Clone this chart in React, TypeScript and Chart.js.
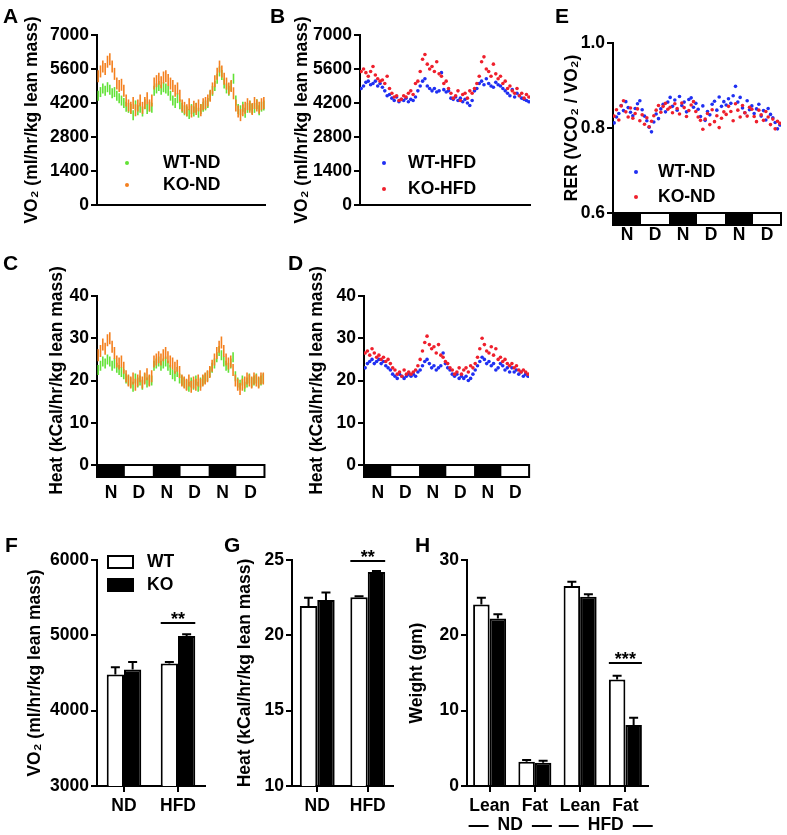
import React, { useEffect, useRef } from "react";
import { Chart, registerables } from "chart.js";
Chart.register(...registerables);

const FONT = '"Liberation Sans", Arial, Helvetica, sans-serif';
const FS = 17.5;
const fnt = (size: number = FS) => ({ family: FONT, size, weight: "bold" as const });

// ---------------- data ----------------
const PHASES = ["N", "D", "N", "D", "N", "D"];
const PHASE_START_HOURS = [0, 12, 24, 36, 48, 60];
const PHASE_CENTER_HOURS = [6, 18, 30, 42, 54, 66];
const PHASE_LENGTH = 12;
const TOTAL_HOURS = 72;

const SERIES_ND = ["WT-ND", "KO-ND"];
const SERIES_HFD = ["WT-HFD", "KO-HFD"];

// A: VO2, normal diet (hourly, 72 h)
const vo2WtND = [
  4500, 4650, 4800, 4700, 4850, 4750, 4600, 4650, 4500, 4400, 4300, 4200,
  4050, 4000, 3950, 3700, 4100, 3900, 4000, 3850, 4150, 3950, 4050, 4000,
  4700, 4800, 4900, 4750, 4850, 4800, 4700, 4500, 4300, 4200, 4400, 4150,
  4000, 3900, 3850, 3750, 3950, 3850, 4000, 3800, 3950, 4050, 4100, 4200,
  4500, 4700, 4900, 5200, 5500, 5350, 5000, 4800, 4700, 4900, 5200, 4300,
  3950, 3900, 4050, 3800, 4000, 4100, 3950, 4000, 4150, 3900, 4050, 4100,
];
const vo2KoND = [
  5300, 5500, 5700, 5600, 5900, 6000, 5700, 5400, 5000, 4900, 4950, 4700,
  4300, 4100, 4000, 4200, 3900, 4100, 4300, 4000, 4200, 4400, 4100, 4300,
  5000, 5100, 5200, 5050, 5250, 5300, 5150, 5000, 4900, 4700, 4800, 4500,
  4100, 4000, 3900, 4150, 3850, 4050, 3950, 4100, 3900, 4150, 4200, 4300,
  4500, 4800, 5100, 5400, 5700, 5500, 5200, 5000, 4800, 4900, 4600, 4100,
  3850, 3700, 3900, 4000, 4150, 4050, 3950, 4200, 4100, 4000, 4150, 4200,
];
// B: VO2, high-fat diet
const vo2WtHFD = [
  4800, 4900, 5050, 5100, 4950, 5000, 5100, 4900, 5000, 4850, 4700, 4500,
  4550, 4400, 4300, 4450, 4250, 4350, 4300, 4400, 4250, 4350, 4300, 4450,
  4700, 4900, 5100, 5200, 4900, 4800, 4700, 4800, 4650, 4700, 5450, 4750,
  4650, 4700, 4400, 4350, 4450, 4300, 4400, 4250, 4350, 4200, 4100, 4300,
  4700, 4800, 5000, 5100, 4950, 5200, 5000, 4900, 4850, 5050, 4950, 4900,
  4800, 4700, 4600, 4500, 4750, 4450, 4600, 4500, 4400, 4350, 4300, 4250,
];
const vo2KoHFD = [
  5500, 5600, 5450, 5300, 5500, 5700, 5350, 5200, 5100, 5150, 5000, 5300,
  4800, 4600, 4450, 4500, 4300, 4350, 4500, 4450, 4600, 4700, 4550, 5000,
  5100, 5500, 6000, 6200, 5800, 5600, 5700, 5500, 5900, 5400, 5300, 5000,
  5100, 4800, 4600, 4400, 4500, 4700, 4300, 4550, 4600, 4400, 4700, 4600,
  4800, 5000, 5300, 5900, 6100, 5600, 5500, 5300, 5800, 5400, 5200, 5300,
  5000, 5100, 4800, 4900, 4700, 4600, 4800, 4500, 4600, 4400, 4550, 4450,
];
// C: heat, normal diet
const heatWtND = [
  22.5, 23.5, 24.5, 24, 25, 24.5, 23.5, 24, 23, 22.5, 22, 21.5,
  20.5, 20, 19.5, 18.5, 20.5, 19.5, 20, 19, 20.5, 19.5, 20, 20,
  23.5, 24, 24.5, 23.5, 24, 24.5, 23.5, 22.5, 21.5, 21, 22, 20.5,
  20, 19.5, 19, 18.5, 19.5, 19, 20, 18.5, 19.5, 20, 20.5, 21,
  22, 23, 24, 25.5, 27, 26, 24.5, 23.5, 23, 24, 25.5, 21,
  19.5, 19, 20, 18.5, 19.5, 20.5, 19.5, 20, 20.5, 19.5, 20, 20.5,
];
const heatKoND = [
  26, 27, 28.5, 27.5, 29.5, 30, 28, 26.5, 24.5, 24, 24.5, 23,
  21, 20, 19.5, 20.5, 19, 20, 21, 19.5, 20.5, 21.5, 20, 21,
  24.5, 25, 25.5, 25, 26, 26.5, 25.5, 24.5, 24, 23, 23.5, 22,
  20, 19.5, 19, 20, 18.5, 19.5, 19, 20, 19, 20, 20.5, 21,
  22, 23.5, 25, 26.5, 28, 29, 27, 25, 24, 24.5, 22.5, 20,
  19, 18, 19, 19.5, 20.5, 20, 19.5, 20.5, 20, 19.5, 20.5, 20.5,
];
// D: heat, high-fat diet
const heatWtHFD = [
  23, 24, 24.5, 25, 24, 24.5, 25, 24, 24.5, 23.5, 23, 22.5,
  21.5, 21, 20.5, 21.5, 21, 20.5, 21, 21.5, 21, 21.5, 21, 22,
  22.5, 23.5, 24.5, 25, 24, 23, 23.5, 22.5, 23, 23.5, 26.5, 24,
  23, 22.5, 21.5, 21, 21.5, 20.5, 21, 20.5, 21, 20, 20.5, 21.5,
  22.5, 23.5, 24.5, 25.5, 25, 24, 24.5, 23.5, 24, 22.5, 23, 24,
  23.5, 22.5, 23, 22, 23, 22, 22.5, 21.5, 22, 21, 21.5, 21,
];
const heatKoHFD = [
  26.5, 27, 26, 27.5, 26.5, 25.5, 26, 25, 25.5, 24.5, 25, 24,
  23, 22.5, 21.5, 22, 21, 22.5, 21.5, 22, 21.5, 22, 22.5, 23.5,
  25, 27, 29, 30.5, 28.5, 27.5, 28, 26.5, 28.5, 26, 25.5, 24.5,
  24, 23, 22.5, 21.5, 22, 23, 21.5, 22.5, 23, 22, 23.5, 23,
  24, 25.5, 27.5, 30, 28.5, 27, 26.5, 28, 26, 27.5, 25, 25.5,
  24.5, 25, 24, 23.5, 24, 23, 23.5, 22.5, 22, 22.5, 22, 21.5,
];
// E: RER, normal diet
const rerWtND = [
  0.812, 0.826, 0.834, 0.853, 0.841, 0.862, 0.848, 0.837, 0.829, 0.846, 0.857, 0.864,
  0.843, 0.828, 0.817, 0.802, 0.791, 0.814, 0.833, 0.822, 0.845, 0.856, 0.838, 0.861,
  0.872, 0.851, 0.866, 0.842, 0.874, 0.853, 0.861, 0.838, 0.867, 0.871, 0.849, 0.858,
  0.844, 0.827, 0.852, 0.818, 0.839, 0.831, 0.856, 0.863, 0.842, 0.873, 0.851, 0.862,
  0.854, 0.869, 0.858, 0.876, 0.898, 0.861, 0.872, 0.847, 0.836, 0.864, 0.843, 0.852,
  0.834, 0.845, 0.856, 0.828, 0.841, 0.819, 0.846, 0.832, 0.824, 0.813, 0.798, 0.807,
];
const rerKoND = [
  0.828, 0.843, 0.819, 0.852, 0.864, 0.838, 0.826, 0.847, 0.823, 0.834, 0.845, 0.817,
  0.831, 0.809, 0.824, 0.803, 0.816, 0.829, 0.842, 0.853, 0.837, 0.851, 0.858, 0.844,
  0.849, 0.836, 0.857, 0.846, 0.833, 0.859, 0.848, 0.827, 0.841, 0.854, 0.862, 0.839,
  0.826, 0.818, 0.797, 0.821, 0.834, 0.808, 0.843, 0.815, 0.829, 0.801, 0.823, 0.838,
  0.832, 0.851, 0.839, 0.817, 0.857, 0.842, 0.826, 0.853, 0.836, 0.828, 0.849, 0.844,
  0.827, 0.815, 0.842, 0.831, 0.818, 0.839, 0.826, 0.808, 0.821, 0.798, 0.816, 0.811,
];

// F, G: bar groups
const DIETS = ["ND", "HFD"];
const GENOTYPES = ["WT", "KO"];
const vo2BarWT = [4480, 4625];
const vo2BarWTErr = [95, 20];
const vo2BarKO = [4545, 4990];
const vo2BarKOErr = [100, 25];
const heatBarWT = [21.95, 22.52];
const heatBarWTErr = [0.55, 0.07];
const heatBarKO = [22.35, 24.2];
const heatBarKOErr = [0.5, 0.07];
// H: body composition
const COMPOSITION = ["Lean", "Fat", "Lean", "Fat"];
const COMPOSITION_GROUPS = ["ND", "HFD"];
const weightWT = [24.1, 3.22, 26.55, 14.15];
const weightWTErr = [0.9, 0.22, 0.55, 0.5];
const weightKO = [22.25, 3.1, 25.13, 8.1];
const weightKOErr = [0.55, 0.25, 0.32, 0.95];

const C_GREEN = "#62e236";
const C_ORANGE = "#f4801f";
const C_BLUE = "#1f2ff2";
const C_RED = "#ef1f2c";

// ---------------- helpers ----------------
type Box = { x: number; y: number; w: number; h: number };
type Area = { l: number; t: number; r: number; b: number };

function frame(box: Box, area: Area) {
  return {
    padTop: area.t - box.y,
    padRight: box.x + box.w - area.r,
    yW: area.l - box.x,
    xH: box.y + box.h - area.b,
  };
}

function yAxis(o: any) {
  const fr = frame(o.box, o.area);
  return {
    type: "linear",
    position: "left",
    min: o.min,
    max: o.max,
    ticks: {
      stepSize: o.step,
      color: "#000",
      font: fnt(),
      padding: 2,
      callback: o.fmt || ((v: any) => String(v)),
    },
    grid: {
      display: true,
      drawOnChartArea: false,
      drawTicks: true,
      tickLength: 6,
      color: "#000",
      lineWidth: 2,
    },
    border: { display: true, color: "#000", width: 2 },
    title: {
      display: true,
      text: o.title,
      color: "#000",
      font: fnt(),
      padding: { top: o.titleX - o.box.x - FS * 0.6, bottom: 0 },
    },
    afterFit: (s: any) => {
      s.width = fr.yW;
    },
  };
}

function ChartCanvas({ box, make }: { box: Box; make: () => any }) {
  const ref = useRef<HTMLCanvasElement>(null);
  useEffect(() => {
    const c = new Chart(ref.current as HTMLCanvasElement, make());
    return () => c.destroy();
  }, []);
  return (
    <canvas
      ref={ref}
      width={box.w}
      height={box.h}
      style={{ position: "absolute", left: box.x, top: box.y, width: box.w, height: box.h }}
    />
  );
}

function baseOptions(fr: any) {
  return {
    animation: false,
    responsive: false,
    maintainAspectRatio: false,
    events: [],
    layout: { padding: { top: fr.padTop, right: fr.padRight, left: 0, bottom: 0 } },
    plugins: { legend: { display: false }, tooltip: { enabled: false } },
  };
}

// ---------------- time-series panels ----------------
function timeConfig(p: any) {
  const fr = frame(p.box, p.area);
  const datasets = p.series.map((s: any) => ({
    label: s.label,
    data: s.values.map((v: number, i: number) => ({ x: i + 0.5, y: v })),
    order: s.order,
    showLine: false,
    pointStyle: p.dash ? "line" : "circle",
    pointRotation: p.dash ? 90 : 0,
    pointRadius: p.dash ? s.dashR : 1.8,
    pointBorderWidth: p.dash ? 1.6 : 0,
    pointBorderColor: s.color,
    pointBackgroundColor: s.color,
  }));

  const plugins: any[] = [];
  if (p.legend && p.legend.length) {
    plugins.push({
      id: "tsLegend",
      afterDraw(chart: any) {
        const ctx = chart.ctx;
        ctx.save();
        ctx.font = `bold ${FS}px ${FONT}`;
        ctx.textBaseline = "middle";
        ctx.textAlign = "left";
        p.series.forEach((s: any, k: number) => {
          const lg = p.legend[k];
          if (!lg) return;
          ctx.fillStyle = s.color;
          ctx.beginPath();
          ctx.arc(lg.dotX - p.box.x, lg.y - p.box.y, 2, 0, Math.PI * 2);
          ctx.fill();
          ctx.fillStyle = "#000";
          ctx.fillText(s.label, lg.textX - p.box.x, lg.y - p.box.y);
        });
        ctx.restore();
      },
    });
  }
  if (p.dayNight) {
    plugins.push({
      id: "dayNight",
      afterDraw(chart: any) {
        const ctx = chart.ctx;
        const xs = chart.scales.x;
        const top = chart.chartArea.bottom;
        const h = 12;
        ctx.save();
        PHASE_START_HOURS.forEach((s, i) => {
          const x0 = xs.getPixelForValue(s);
          const x1 = xs.getPixelForValue(s + PHASE_LENGTH);
          ctx.fillStyle = PHASES[i] === "N" ? "#000" : "#fff";
          ctx.fillRect(x0, top, x1 - x0, h);
        });
        ctx.strokeStyle = "#000";
        ctx.lineWidth = 2;
        const a = xs.getPixelForValue(0);
        const b = xs.getPixelForValue(TOTAL_HOURS);
        ctx.strokeRect(a, top, b - a, h);
        ctx.restore();
      },
    });
  }

  const opts: any = baseOptions(fr);
  opts.scales = {
    x: {
      type: "linear",
      min: 0,
      max: TOTAL_HOURS,
      afterBuildTicks: (s: any) => {
        s.ticks = PHASE_CENTER_HOURS.map((v) => ({ value: v }));
      },
      ticks: {
        display: !!p.dayNight,
        autoSkip: false,
        maxRotation: 0,
        color: "#000",
        font: fnt(),
        padding: p.labelPad || 0,
        callback: (_v: any, i: number) => PHASES[i],
      },
      grid: { display: false, drawTicks: false },
      border: { display: true, color: "#000", width: 2 },
      afterFit: (s: any) => {
        s.height = fr.xH;
      },
    },
    y: yAxis({
      box: p.box,
      area: p.area,
      min: p.yMin,
      max: p.yMax,
      step: p.yStep,
      title: p.title,
      titleX: p.titleX,
      fmt: p.fmt,
    }),
  };
  return { type: "scatter", data: { datasets }, options: opts, plugins };
}

// ---------------- bar panels ----------------
function barConfig(p: any) {
  const fr = frame(p.box, p.area);
  const datasets = [
    {
      label: GENOTYPES[0],
      data: p.wt,
      backgroundColor: "#fff",
      borderColor: "#000",
      borderWidth: 2,
      categoryPercentage: p.pct,
      barPercentage: 1,
    },
    {
      label: GENOTYPES[1],
      data: p.ko,
      backgroundColor: "#000",
      borderColor: "#000",
      borderWidth: 2,
      categoryPercentage: p.pct,
      barPercentage: 1,
    },
  ];
  const plugins: any[] = [
    {
      id: "errBars",
      afterDatasetsDraw(chart: any) {
        const ctx = chart.ctx;
        const ys = chart.scales.y;
        [p.wtErr, p.koErr].forEach((errs: number[], d: number) => {
          const vals = d === 0 ? p.wt : p.ko;
          const meta = chart.getDatasetMeta(d);
          meta.data.forEach((el: any, i: number) => {
            const top = ys.getPixelForValue(vals[i] + errs[i]);
            ctx.save();
            ctx.strokeStyle = "#000";
            ctx.lineWidth = 2;
            ctx.beginPath();
            ctx.moveTo(el.x, el.y);
            ctx.lineTo(el.x, top);
            ctx.moveTo(el.x - 4.5, top);
            ctx.lineTo(el.x + 4.5, top);
            ctx.stroke();
            ctx.restore();
          });
        });
      },
    },
    {
      id: "sig",
      afterDraw(chart: any) {
        const ctx = chart.ctx;
        const ys = chart.scales.y;
        const w = chart.getDatasetMeta(0).data[p.sig.cat];
        const k = chart.getDatasetMeta(1).data[p.sig.cat];
        if (!w || !k) return;
        const x0 = w.x - w.width / 2;
        const x1 = k.x + k.width / 2;
        const y = Math.round(ys.getPixelForValue(p.sig.value));
        ctx.save();
        ctx.strokeStyle = "#000";
        ctx.lineWidth = 2;
        ctx.beginPath();
        ctx.moveTo(x0, y);
        ctx.lineTo(x1, y);
        ctx.stroke();
        ctx.fillStyle = "#000";
        ctx.font = `bold 18px ${FONT}`;
        ctx.textAlign = "center";
        ctx.textBaseline = "alphabetic";
        ctx.fillText(p.sig.text, (x0 + x1) / 2, y + 2);
        ctx.restore();
      },
    },
  ];
  if (p.boxLegend) {
    plugins.push({
      id: "boxLegend",
      afterDraw(chart: any) {
        const ctx = chart.ctx;
        ctx.save();
        ctx.font = `bold ${FS}px ${FONT}`;
        ctx.textBaseline = "middle";
        ctx.textAlign = "left";
        p.boxLegend.forEach((lg: any, k: number) => {
          const bx = lg.x - p.box.x;
          const by = lg.y - p.box.y;
          ctx.fillStyle = k === 0 ? "#fff" : "#000";
          ctx.fillRect(bx, by, 25, 12);
          ctx.strokeStyle = "#000";
          ctx.lineWidth = 2;
          ctx.strokeRect(bx, by, 25, 12);
          ctx.fillStyle = "#000";
          ctx.fillText(GENOTYPES[k], lg.textX - p.box.x, by + 6.5);
        });
        ctx.restore();
      },
    });
  }
  if (p.groups) {
    plugins.push({
      id: "groups",
      afterDraw(chart: any) {
        const ctx = chart.ctx;
        const xs = chart.scales.x;
        ctx.save();
        ctx.font = `bold ${FS}px ${FONT}`;
        ctx.textBaseline = "middle";
        ctx.textAlign = "center";
        ctx.fillStyle = "#000";
        ctx.strokeStyle = "#000";
        ctx.lineWidth = 2;
        p.groups.forEach((g: string, gi: number) => {
          const cx = (xs.getPixelForValue(gi * 2) + xs.getPixelForValue(gi * 2 + 1)) / 2 + p.groupShift[gi];
          const y = p.groupY - p.box.y;
          const tw = ctx.measureText(g).width;
          ctx.fillText(g, cx, y);
          ctx.beginPath();
          ctx.moveTo(cx - tw / 2 - 9, y + 1);
          ctx.lineTo(cx - tw / 2 - 29, y + 1);
          ctx.moveTo(cx + tw / 2 + 9, y + 1);
          ctx.lineTo(cx + tw / 2 + 29, y + 1);
          ctx.stroke();
        });
        ctx.restore();
      },
    });
  }
  const opts: any = baseOptions(fr);
  opts.scales = {
    x: {
      type: "category",
      offset: true,
      ticks: { color: "#000", font: fnt(), padding: p.labelPad, autoSkip: false, maxRotation: 0 },
      grid: {
        display: true,
        drawOnChartArea: false,
        drawTicks: true,
        tickLength: 6,
        color: "#000",
        lineWidth: 2,
        offset: false,
      },
      border: { display: true, color: "#000", width: 2 },
      afterFit: (s: any) => {
        s.height = fr.xH;
      },
    },
    y: yAxis({
      box: p.box,
      area: p.area,
      min: p.yMin,
      max: p.yMax,
      step: p.yStep,
      title: p.title,
      titleX: p.titleX,
    }),
  };
  return { type: "bar", data: { labels: p.labels, datasets }, options: opts, plugins };
}

// ---------------- layout ----------------
const boxA = { x: 0, y: 0, w: 275, h: 245 };
const boxB = { x: 270, y: 0, w: 270, h: 245 };
const boxE = { x: 545, y: 0, w: 242, h: 252 };
const boxC = { x: 0, y: 250, w: 275, h: 268 };
const boxD = { x: 270, y: 250, w: 270, h: 268 };
const boxF = { x: 0, y: 520, w: 215, h: 315 };
const boxG = { x: 215, y: 520, w: 190, h: 315 };
const boxH = { x: 405, y: 520, w: 260, h: 315 };

const VO2_TITLE = "VO\u2082 (ml/hr/kg lean mass)";
const HEAT_TITLE = "Heat (kCal/hr/kg lean mass)";

const makeA = () =>
  timeConfig({
    box: boxA,
    area: { l: 97, t: 35, r: 265, b: 205 },
    yMin: 0, yMax: 7000, yStep: 1400,
    title: VO2_TITLE, titleX: 32,
    dash: true,
    series: [
      { label: SERIES_ND[0], values: vo2WtND, color: C_GREEN, order: 1, dashR: 5 },
      { label: SERIES_ND[1], values: vo2KoND, color: C_ORANGE, order: 0, dashR: 6 },
    ],
    legend: [
      { dotX: 127, textX: 163, y: 163 },
      { dotX: 127, textX: 163, y: 185 },
    ],
  });
const makeB = () =>
  timeConfig({
    box: boxB,
    area: { l: 360, t: 35, r: 530, b: 205 },
    yMin: 0, yMax: 7000, yStep: 1400,
    title: VO2_TITLE, titleX: 302,
    dash: false,
    series: [
      { label: SERIES_HFD[0], values: vo2WtHFD, color: C_BLUE, order: 1 },
      { label: SERIES_HFD[1], values: vo2KoHFD, color: C_RED, order: 0 },
    ],
    legend: [
      { dotX: 384, textX: 408, y: 163 },
      { dotX: 384, textX: 408, y: 189 },
    ],
  });
const makeE = () =>
  timeConfig({
    box: boxE,
    area: { l: 613, t: 43, r: 781, b: 213 },
    yMin: 0.6, yMax: 1.0, yStep: 0.2,
    fmt: (v: any) => Number(v).toFixed(1),
    title: "RER (VCO\u2082 / VO\u2082)", titleX: 572,
    dash: false,
    dayNight: true, labelPad: 12,
    series: [
      { label: SERIES_ND[0], values: rerWtND, color: C_BLUE, order: 1 },
      { label: SERIES_ND[1], values: rerKoND, color: C_RED, order: 0 },
    ],
    legend: [
      { dotX: 636, textX: 658, y: 172 },
      { dotX: 636, textX: 658, y: 197 },
    ],
  });
const makeC = () =>
  timeConfig({
    box: boxC,
    area: { l: 97, t: 296, r: 267, b: 465 },
    yMin: 0, yMax: 40, yStep: 10,
    title: HEAT_TITLE, titleX: 57,
    dash: true,
    dayNight: true, labelPad: 17.5,
    series: [
      { label: SERIES_ND[0], values: heatWtND, color: C_GREEN, order: 1, dashR: 5 },
      { label: SERIES_ND[1], values: heatKoND, color: C_ORANGE, order: 0, dashR: 6 },
    ],
    legend: [],
  });
const makeD = () =>
  timeConfig({
    box: boxD,
    area: { l: 364, t: 296, r: 530, b: 465 },
    yMin: 0, yMax: 40, yStep: 10,
    title: HEAT_TITLE, titleX: 317,
    dash: false,
    dayNight: true, labelPad: 17.5,
    series: [
      { label: SERIES_HFD[0], values: heatWtHFD, color: C_BLUE, order: 1 },
      { label: SERIES_HFD[1], values: heatKoHFD, color: C_RED, order: 0 },
    ],
    legend: [],
  });
const makeF = () =>
  barConfig({
    box: boxF,
    area: { l: 97, t: 560, r: 205, b: 786 },
    labels: DIETS,
    wt: vo2BarWT, wtErr: vo2BarWTErr, ko: vo2BarKO, koErr: vo2BarKOErr,
    yMin: 3000, yMax: 6000, yStep: 1000,
    title: VO2_TITLE, titleX: 35,
    pct: 0.64, labelPad: 3.5,
    sig: { cat: 1, value: 5165, text: "**" },
    boxLegend: [
      { x: 108, y: 556, textX: 147 },
      { x: 108, y: 579, textX: 147 },
    ],
  });
const makeG = () =>
  barConfig({
    box: boxG,
    area: { l: 292, t: 560, r: 393, b: 786 },
    labels: DIETS,
    wt: heatBarWT, wtErr: heatBarWTErr, ko: heatBarKO, koErr: heatBarKOErr,
    yMin: 10, yMax: 25, yStep: 5,
    title: HEAT_TITLE, titleX: 245,
    pct: 0.69, labelPad: 3.5,
    sig: { cat: 1, value: 24.95, text: "**" },
  });
const makeH = () =>
  barConfig({
    box: boxH,
    area: { l: 467, t: 560, r: 648, b: 786 },
    labels: COMPOSITION,
    wt: weightWT, wtErr: weightWTErr, ko: weightKO, koErr: weightKOErr,
    yMin: 0, yMax: 30, yStep: 10,
    title: "Weight (gm)", titleX: 417,
    pct: 0.73, labelPad: 3.5,
    sig: { cat: 3, value: 16.3, text: "***" },
    groups: COMPOSITION_GROUPS,
    groupShift: [-2, 3],
    groupY: 825,
  });

const LETTERS = [
  { t: "A", x: 3, y: 5 },
  { t: "B", x: 270, y: 5 },
  { t: "E", x: 555, y: 5 },
  { t: "C", x: 3, y: 252 },
  { t: "D", x: 288, y: 252 },
  { t: "F", x: 5, y: 534 },
  { t: "G", x: 224, y: 534 },
  { t: "H", x: 415, y: 534 },
];

export default function App() {
  return (
    <div style={{ position: "absolute", left: 0, top: 0, width: 787, height: 835, background: "#fff", overflow: "hidden" }}>
      <ChartCanvas box={boxA} make={makeA} />
      <ChartCanvas box={boxB} make={makeB} />
      <ChartCanvas box={boxE} make={makeE} />
      <ChartCanvas box={boxC} make={makeC} />
      <ChartCanvas box={boxD} make={makeD} />
      <ChartCanvas box={boxF} make={makeF} />
      <ChartCanvas box={boxG} make={makeG} />
      <ChartCanvas box={boxH} make={makeH} />
      {LETTERS.map((l) => (
        <div
          key={l.t}
          style={{
            position: "absolute",
            left: l.x,
            top: l.y,
            fontFamily: FONT,
            fontWeight: "bold",
            fontSize: 21,
            lineHeight: 1,
            color: "#000",
          }}
        >
          {l.t}
        </div>
      ))}
    </div>
  );
}
